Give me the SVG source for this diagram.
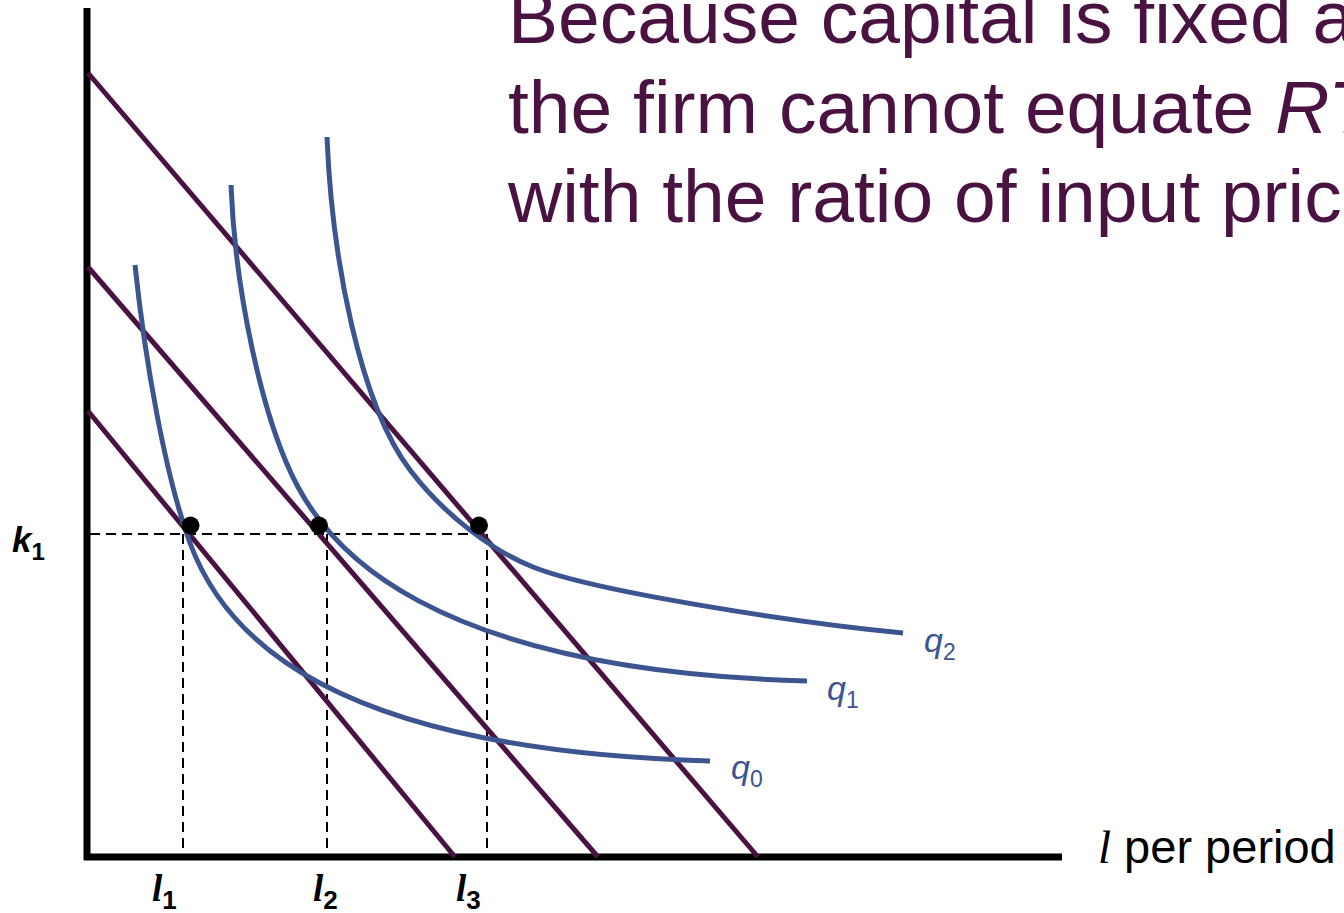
<svg xmlns="http://www.w3.org/2000/svg" width="1344" height="913" viewBox="0 0 1344 913">
<style>
.title{font-family:"Liberation Sans",Arial,sans-serif;font-size:75px;fill:#4a1240}
.budget{stroke:#4a1240;stroke-width:5;fill:none;stroke-linecap:butt}
.iso{stroke:#3c5490;stroke-width:5;fill:none}
.dash{stroke:#000;stroke-width:2;stroke-dasharray:10,6;fill:none}
.axis{stroke:#000;stroke-width:7;fill:none}
.ql{font-family:"Liberation Sans",Arial,sans-serif;font-style:italic;font-size:34px;fill:#3c5490}
.qs{font-family:"Liberation Sans",Arial,sans-serif;font-style:normal;font-size:23px;fill:#3c5490}
.ll{font-family:"Liberation Serif","Times New Roman",serif;font-style:italic;font-weight:bold;font-size:37px;fill:#000}
.ls{font-family:"Liberation Sans",Arial,sans-serif;font-style:normal;font-weight:bold;font-size:26px;fill:#000}
</style>
<g id="title">
<text class="title" x="508" y="43">Because capital is fixed a</text>
<text class="title" x="508" y="133">the firm cannot equate <tspan font-style="italic">RT</tspan></text>
<text class="title" x="508" y="222">with the ratio of input pric</text>
</g>
<g id="axes">
<line class="axis" x1="87" y1="8" x2="87" y2="860"/>
<line class="axis" x1="84" y1="857" x2="1062" y2="857"/>
</g>
<g id="connectors">
<path class="dash" d="M90,534 H487"/>
<path class="dash" d="M183,534 V854"/>
<path class="dash" d="M327,534 V854"/>
<path class="dash" d="M487,534 V854"/>
</g>
<g id="budget-lines">
<line class="budget" x1="88" y1="411" x2="455" y2="857"/>
<line class="budget" x1="88" y1="267" x2="598" y2="857"/>
<line class="budget" x1="88" y1="73" x2="758" y2="857"/>
</g>
<g id="q0">
<path class="iso" d="M135,265 C145,360 165,475 190,543 C225,638 330,750 710,761"/>
<text class="ql" x="731" y="779">q<tspan class="qs" dy="8">0</tspan></text>
</g>
<g id="q1">
<path class="iso" d="M231,185 C235,290 262,420 298,487 C328,543 420,670 807,681"/>
<text class="ql" x="827" y="700">q<tspan class="qs" dy="8">1</tspan></text>
</g>
<g id="q2">
<path class="iso" d="M327,137 C332,260 360,404 410,470 C446,517 493,551 533,567 C593,591 790,622 903,633"/>
<text class="ql" x="924" y="652">q<tspan class="qs" dy="8">2</tspan></text>
</g>
<g id="points">
<circle cx="190.5" cy="525.5" r="9"/>
<circle cx="319" cy="525.5" r="9"/>
<circle cx="479" cy="525.5" r="9"/>
</g>
<g id="labels">
<text x="12" y="552" font-family="Liberation Sans,Arial,sans-serif" font-weight="bold" font-style="italic" font-size="35">k<tspan font-style="normal" font-size="24" dy="8">1</tspan></text>
<text class="ll" x="152" y="901">l<tspan class="ls" dy="8">1</tspan></text>
<text class="ll" x="313" y="901">l<tspan class="ls" dy="8">2</tspan></text>
<text class="ll" x="456" y="901">l<tspan class="ls" dy="8">3</tspan></text>
<text x="1098" y="863" font-family="Liberation Sans,Arial,sans-serif" font-size="47" fill="#000"><tspan font-family="Liberation Serif,Times New Roman,serif" font-style="italic">l</tspan> per period</text>
</g>
</svg>
